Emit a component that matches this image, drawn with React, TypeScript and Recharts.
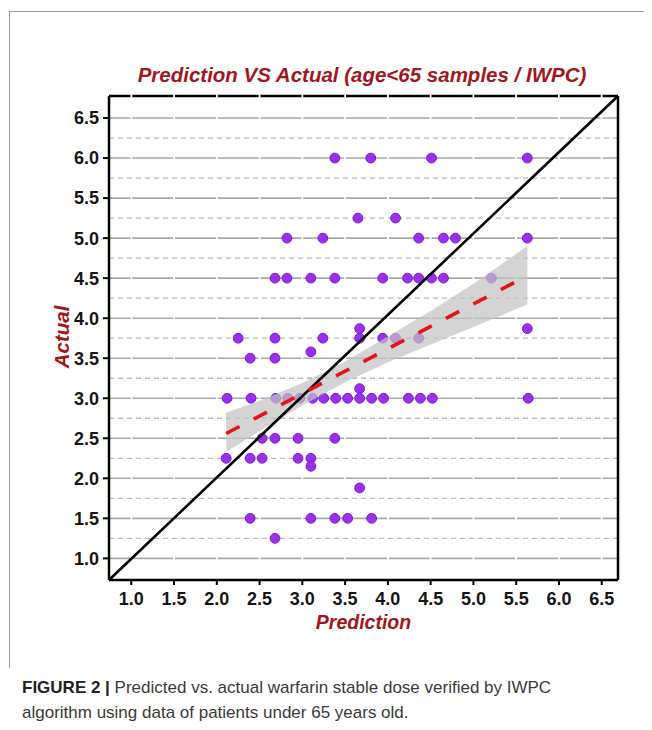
import React from "react";
import {
  Area,
  ComposedChart,
  Line,
  ReferenceLine,
  Scatter,
  XAxis,
  YAxis,
} from "recharts";

// plot window
const X_MIN = 0.74;
const X_MAX = 6.69;
const Y_MIN = 0.73;
const Y_MAX = 6.775;

const axisTicks = [1.0, 1.5, 2.0, 2.5, 3.0, 3.5, 4.0, 4.5, 5.0, 5.5, 6.0, 6.5];
const minorGridY = [1.25, 1.75, 2.25, 2.75, 3.25, 3.75, 4.25, 4.75, 5.25, 5.75, 6.25];

// samples (prediction, actual)
const predicted = [
  3.38, 3.8, 4.51, 5.63,
  3.65, 4.09,
  2.82, 3.24, 4.36, 4.65, 4.79, 5.63,
  2.68, 2.82, 3.1, 3.38, 3.94, 4.23, 4.36, 4.51, 4.65, 5.21,
  3.67, 5.63,
  2.25, 2.68, 3.24, 3.67, 3.94, 4.09, 4.36,
  3.1,
  2.39, 2.68,
  3.67,
  2.12, 2.4, 2.69, 2.83, 2.97, 3.12, 3.25, 3.39, 3.53, 3.67, 3.81, 3.95, 4.24, 4.38, 4.52, 5.64,
  2.53, 2.68, 2.95, 3.38,
  2.11, 2.39, 2.53, 2.95, 3.1,
  3.1,
  3.67,
  2.39, 3.1, 3.38, 3.53, 3.81,
  2.68,
];
const actual = [
  6.0, 6.0, 6.0, 6.0,
  5.25, 5.25,
  5.0, 5.0, 5.0, 5.0, 5.0, 5.0,
  4.5, 4.5, 4.5, 4.5, 4.5, 4.5, 4.5, 4.5, 4.5, 4.5,
  3.87, 3.87,
  3.75, 3.75, 3.75, 3.75, 3.75, 3.75, 3.75,
  3.58,
  3.5, 3.5,
  3.12,
  3.0, 3.0, 3.0, 3.0, 3.0, 3.0, 3.0, 3.0, 3.0, 3.0, 3.0, 3.0, 3.0, 3.0, 3.0, 3.0,
  2.5, 2.5, 2.5, 2.5,
  2.25, 2.25, 2.25, 2.25, 2.25,
  2.15,
  1.88,
  1.5, 1.5, 1.5, 1.5, 1.5,
  1.25,
];

// grey confidence band around the fitted line
const bandX = [2.11, 2.5, 3.0, 3.5, 4.0, 4.5, 5.0, 5.63];
const bandLow = [2.33, 2.59, 2.91, 3.2, 3.45, 3.67, 3.89, 4.17];
const bandHigh = [2.82, 2.97, 3.19, 3.46, 3.77, 4.09, 4.43, 4.9];

// red dashed fit
const fitX = [2.11, 5.63];
const fitY = [2.56, 4.53];

const points = predicted.map((x, i) => ({ x, y: actual[i] }));
const band = bandX.map((x, i) => ({ x, range: [bandLow[i], bandHigh[i]] }));
const fit = fitX.map((x, i) => ({ x, y: fitY[i] }));

const DARK_RED = "#a3161b";
const PURPLE = "#9a2ff0";
const FONT = "'Liberation Sans', Arial, sans-serif";

const tickStyle = { fontSize: 18, fontWeight: 700, fill: "#151515", fontFamily: FONT };

const Dot = (props: any) => (
  <circle cx={props.cx} cy={props.cy} r={4.9} fill={PURPLE} stroke="#7a1cc9" strokeWidth={1} />
);

const labelStyle: React.CSSProperties = {
  position: "absolute",
  fontWeight: 700,
  fontStyle: "italic",
  color: DARK_RED,
  whiteSpace: "nowrap",
};

export default function App() {
  return (
    <div
      style={{
        position: "relative",
        margin: -8,
        width: 652,
        height: 730,
        background: "#fff",
        overflow: "hidden",
        fontFamily: FONT,
      }}
    >
      <div
        style={{
          position: "absolute",
          left: 9,
          top: 11,
          width: 643,
          height: 656,
          borderTop: "1px solid #9c9c9c",
          borderLeft: "1px solid #9c9c9c",
        }}
      />

      <div
        style={{
          ...labelStyle,
          left: 0,
          top: 63,
          width: 724,
          textAlign: "center",
          fontSize: 20.5,
          lineHeight: "24px",
        }}
      >
        Prediction VS Actual (age&lt;65 samples / IWPC)
      </div>

      <div style={{ position: "absolute", left: 0, top: 0 }}>
        <ComposedChart
          width={652}
          height={650}
          data={band}
          margin={{ top: 96, right: 34, bottom: 0, left: 0 }}
        >
          {axisTicks.map((v) => (
            <ReferenceLine
              key={"g" + v}
              y={v}
              stroke="#a9a9a9"
              strokeWidth={1.6}
              strokeDasharray="41 1.75"
              strokeDashoffset={19.5}
              zIndex={10}
            />
          ))}
          {minorGridY.map((v) => (
            <ReferenceLine
              key={"m" + v}
              y={v}
              stroke="#b9b9b9"
              strokeWidth={1.3}
              strokeDasharray="5 4"
              zIndex={10}
            />
          ))}

          <XAxis
            type="number"
            dataKey="x"
            domain={[X_MIN, X_MAX]}
            allowDataOverflow
            ticks={axisTicks}
            interval={0}
            tickFormatter={(v: number) => v.toFixed(1)}
            height={70}
            tickSize={5}
            tickMargin={7}
            tick={tickStyle}
            axisLine={{ stroke: "#000", strokeWidth: 2.5 }}
            tickLine={{ stroke: "#000", strokeWidth: 2 }}
          />
          <YAxis
            type="number"
            dataKey="y"
            domain={[Y_MIN, Y_MAX]}
            allowDataOverflow
            ticks={axisTicks}
            interval={0}
            tickFormatter={(v: number) => v.toFixed(1)}
            width={109}
            tickSize={6}
            tickMargin={4}
            tick={tickStyle}
            axisLine={{ stroke: "#000", strokeWidth: 2.5 }}
            tickLine={{ stroke: "#000", strokeWidth: 2 }}
          />

          <Scatter
            data={points}
            dataKey="y"
            shape={Dot}
            isAnimationActive={false}
            zIndex={20}
          />
          <Area
            type="linear"
            dataKey="range"
            fill="#c4c4c4"
            fillOpacity={0.72}
            stroke="none"
            isAnimationActive={false}
            zIndex={30}
          />
          <ReferenceLine
            segment={[
              { x: X_MIN, y: Y_MIN },
              { x: X_MAX, y: Y_MAX },
            ]}
            stroke="#000"
            strokeWidth={2.6}
            zIndex={40}
          />
          <Line
            data={fit}
            type="linear"
            dataKey="y"
            stroke="#e5141b"
            strokeWidth={3.6}
            strokeDasharray="15 16"
            dot={false}
            activeDot={false}
            isAnimationActive={false}
            zIndex={50}
          />

          <ReferenceLine
            y={Y_MAX}
            stroke="#000"
            strokeWidth={2.4}
            strokeDasharray="41 1.75"
            strokeDashoffset={19.5}
            zIndex={60}
          />
          <ReferenceLine x={X_MAX} stroke="#000" strokeWidth={2.5} zIndex={60} />
        </ComposedChart>
      </div>

      <div
        style={{
          ...labelStyle,
          left: 0,
          top: 610,
          width: 727,
          textAlign: "center",
          fontSize: 19.5,
          lineHeight: "24px",
        }}
      >
        Prediction
      </div>
      <div
        style={{
          ...labelStyle,
          left: 62,
          top: 337,
          transform: "translate(-50%, -50%) rotate(-90deg)",
          fontSize: 20.5,
          lineHeight: "24px",
        }}
      >
        Actual
      </div>

      <div
        style={{
          position: "absolute",
          left: 22,
          top: 676,
          fontSize: 17,
          lineHeight: "24.5px",
          color: "#3a3a3a",
          width: 620,
        }}
      >
        <span style={{ fontWeight: 700, color: "#222" }}>FIGURE 2 |</span> Predicted vs. actual warfarin
        stable dose verified by IWPC
        <br />
        algorithm using data of patients under 65 years old.
      </div>
    </div>
  );
}
